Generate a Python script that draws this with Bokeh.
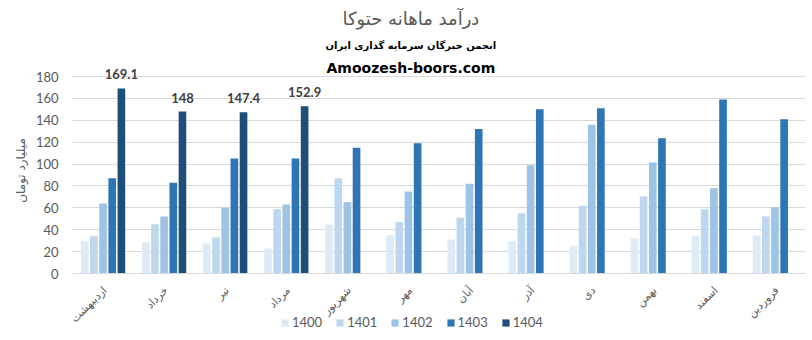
import math
from bokeh.plotting import figure
from bokeh.models import (ColumnDataSource, FactorRange, Range1d, FixedTicker,
                          Legend, LegendItem, Label, LabelSet)
from bokeh.transform import dodge
from bokeh.embed import file_html
from bokeh.resources import INLINE
from bokeh.core.properties import value

months = ["اردیبهشت", "خرداد", "تیر", "مرداد", "شهریور", "مهر",
          "آبان", "آذر", "دی", "بهمن", "اسفند", "فروردین"]
years = ["1400", "1401", "1402", "1403", "1404"]
v1400 = [29.5, 28.5, 27.5, 23, 45, 35, 31, 29.5, 25, 32, 34, 35]
v1401 = [34, 45, 33, 58.6, 87, 47, 51, 55, 62, 70.5, 58.6, 52]
v1402 = [64, 52, 60, 63, 65, 75, 82, 99, 136, 101.5, 78, 60.5]
v1403 = [87, 83, 105, 105, 115, 119, 132, 150, 151, 123.5, 159, 141]
months_1404 = ["اردیبهشت", "خرداد", "تیر", "مرداد"]
v1404 = [169.1, 148, 147.4, 152.9]
y_ticks = [0, 20, 40, 60, 80, 100, 120, 140, 160, 180]

colors = ["#DEEBF7", "#BDD7EE", "#9DC3E6", "#2E75B6", "#1F4E79"]
offsets = [-0.3, -0.15, 0.0, 0.15, 0.3]

H = 340
zero_px = 273          # pixel row of value 0
px_per_unit = 197 / 180.0
y_end = zero_px / px_per_unit
y_start = -(H - zero_px) / px_per_unit

p = figure(width=812, height=H, output_backend="svg", toolbar_location=None,
           x_range=FactorRange(*months, range_padding=0), y_range=Range1d(y_start, y_end),
           min_border_left=72, min_border_right=7, min_border_top=0, min_border_bottom=0)
p.outline_line_color = None

series = [v1400, v1401, v1402, v1403]
items = []
for i, vals in enumerate(series):
    src = ColumnDataSource(dict(month=months, v=vals))
    r = p.vbar(x=dodge("month", offsets[i], range=p.x_range), top="v", width=0.125,
               source=src, fill_color=colors[i], line_color=None)
    items.append(LegendItem(label=years[i], renderers=[r]))

src4 = ColumnDataSource(dict(month=months_1404, v=v1404, lbl=[f"{x:g}" for x in v1404]))
r4 = p.vbar(x=dodge("month", offsets[4], range=p.x_range), top="v", width=0.125,
            source=src4, fill_color=colors[4], line_color=None)
items.append(LegendItem(label=years[4], renderers=[r4]))

labels = LabelSet(x=dodge("month", offsets[4], range=p.x_range), y="v", text="lbl",
                  source=src4, text_align="center", text_baseline="bottom", y_offset=9,
                  text_font=value("Lato"), text_font_style="bold", text_font_size="13px",
                  text_color="#404040")
p.add_layout(labels)

# month labels (category axis labels, rotated and end-anchored like the original)
msrc = ColumnDataSource(dict(month=months, zero=[0] * len(months)))
mlabels = LabelSet(x="month", y="zero", text="month", source=msrc,
                   angle=math.pi / 4, text_align="right", text_baseline="middle",
                   x_offset=2, y_offset=-15,
                   text_font=value("DejaVu Sans"), text_font_size="11px",
                   text_color="#595959")
p.add_layout(mlabels)

# titles
cx = 5.54
p.add_layout(Label(x=cx, y=(zero_px - 18) / px_per_unit, text="درآمد ماهانه حتوکا",
                   text_align="center", text_baseline="middle", text_font="DejaVu Sans",
                   text_font_size="18px", text_color="#595959"))
p.add_layout(Label(x=cx, y=(zero_px - 45) / px_per_unit, text="انجمن خبرگان سرمایه گذاری ایران",
                   text_align="center", text_baseline="middle", text_font="DejaVu Sans",
                   text_font_style="bold", text_font_size="10px", text_color="#000000"))
p.add_layout(Label(x=cx, y=(zero_px - 67) / px_per_unit, text="Amoozesh-boors.com",
                   text_align="center", text_baseline="middle", text_font="DejaVu Sans",
                   text_font_style="bold", text_font_size="14px", text_color="#000000"))

# axes
p.yaxis.ticker = FixedTicker(ticks=y_ticks)
p.yaxis.axis_line_color = None
p.yaxis.major_tick_line_color = None
p.yaxis.minor_tick_line_color = None
p.yaxis.major_label_text_font = "Lato"
p.yaxis.major_label_text_font_size = "13px"
p.yaxis.major_label_text_color = "#595959"
p.yaxis.major_label_standoff = 8
p.yaxis.axis_label = "میلیارد تومان"
p.yaxis.axis_label_text_font = "DejaVu Sans"
p.yaxis.axis_label_text_font_style = "normal"
p.yaxis.axis_label_text_font_size = "12px"
p.yaxis.axis_label_text_color = "#595959"
p.yaxis.axis_label_standoff = 5

p.xaxis.fixed_location = 0
p.xaxis.axis_line_color = "#D9D9D9"
p.xaxis.major_tick_line_color = None
p.xaxis.minor_tick_line_color = None
p.xaxis.major_label_text_color = None

p.xgrid.grid_line_color = None
p.ygrid.grid_line_color = "#D9D9D9"
p.ygrid.ticker = FixedTicker(ticks=y_ticks)

legend = Legend(items=items, orientation="horizontal", location=(208, 10),
                label_text_font="Lato", label_text_font_size="13px",
                label_text_color="#595959", glyph_width=9, glyph_height=9,
                label_standoff=3, spacing=13, padding=0, margin=0,
                border_line_color=None, background_fill_alpha=0)
p.add_layout(legend)

open("out.html", "w").write(file_html(p, INLINE))
